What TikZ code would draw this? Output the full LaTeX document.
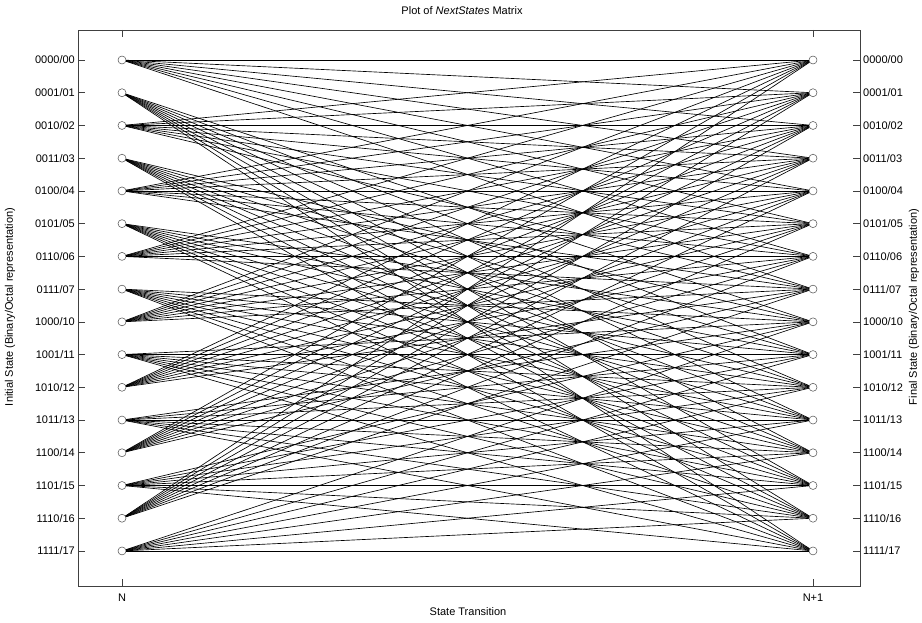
\documentclass[tikz,border=0pt]{standalone}
\usepackage{fontspec}
\setmainfont{Liberation Sans}

\begin{document}
\begin{tikzpicture}[
    x=1pt, y=-1pt,
    state/.style={circle, draw=black!65, line width=0.55pt, minimum size=8pt, inner sep=0pt},
    trans/.style={line width=0.65pt, black},
    frame/.style={line width=0.6pt, black!75},
    ticklabel/.style={font=\fontsize{11}{13}\selectfont, inner sep=0pt},
    axislabel/.style={font=\fontsize{11}{13}\selectfont, inner sep=0pt}
]
    \useasboundingbox (0,0) rectangle (922,623);

    % plot frame with inward ticks
    \draw[frame] (78,30) rectangle (860,586);
    \foreach \x in {122,813} {
        \draw[frame] (\x,30) -- (\x,37);
        \draw[frame] (\x,586) -- (\x,579);
    }

    % states at step N and N+1
    \foreach \i/\bin/\oct in {0/0000/00,1/0001/01,2/0010/02,3/0011/03,
                              4/0100/04,5/0101/05,6/0110/06,7/0111/07,
                              8/1000/10,9/1001/11,10/1010/12,11/1011/13,
                              12/1100/14,13/1101/15,14/1110/16,15/1111/17} {
        \pgfmathsetmacro\ypos{60+32.73*\i}
        \node[state] (L\i) at (122,\ypos) {};
        \node[state] (R\i) at (813,\ypos) {};
        \draw[frame] (78,\ypos) -- (85,\ypos);
        \draw[frame] (860,\ypos) -- (853,\ypos);
        \node[ticklabel, anchor=east] at (75,\ypos) {\bin/\oct};
        \node[ticklabel, anchor=west] at (863,\ypos) {\bin/\oct};
    }

    % transitions: next = (8*s + u) mod 16
    \foreach \s in {0,...,15} {
        \foreach \u in {0,...,7} {
            \pgfmathtruncatemacro\nxt{mod(8*\s+\u,16)}
            \draw[trans] (L\s) -- (R\nxt);
        }
    }

    \node[axislabel] (title) at (462,11) {Plot of \textit{NextStates} Matrix};
    \node[axislabel] (lblN) at (122,598) {N};
    \node[axislabel] (lblN1) at (813,598) {N+1};
    \node[axislabel] (xlabel) at (468,612) {State Transition};
    \node[axislabel, rotate=90] (ylabel) at (10,307) {Initial State (Binary/Octal representation)};
    \node[axislabel, rotate=90] (ylabelr) at (914,307) {Final State (Binary/Octal representation)};
\end{tikzpicture}
\end{document}
